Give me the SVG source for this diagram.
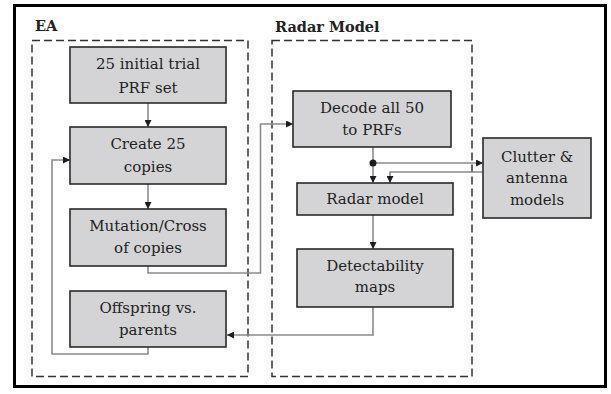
<svg xmlns="http://www.w3.org/2000/svg" width="611" height="394" viewBox="0 0 611 394">
  <style>
    .node rect { fill: #d4d4d6; stroke: #2a2a2a; stroke-width: 1.6; }
    text { font-family: "DejaVu Serif", "Liberation Serif", serif; fill: #222; }
    .node text { font-size: 15px; text-anchor: middle; }
    .lbl { font-size: 14.5px; font-weight: bold; }
    .group { fill: none; stroke: #333; stroke-width: 1.5; stroke-dasharray: 8 4; }
    .conn { fill: none; stroke: #8c8c8c; stroke-width: 1.6; }
    .arr { marker-end: url(#ah); }
  </style>
  <defs>
    <marker id="ah" viewBox="0 0 10 10" refX="10" refY="5" markerWidth="7" markerHeight="7" markerUnits="userSpaceOnUse" orient="auto">
      <path d="M0,0 L10,5 L0,10 Z" fill="#1e1e1e"/>
    </marker>
  </defs>
  <rect x="0" y="0" width="611" height="394" fill="#fff"/>
  <rect x="14.5" y="5.5" width="591" height="381" fill="none" stroke="#000" stroke-width="3"/>

  <g id="group-ea">
    <text class="lbl" x="35" y="31">EA</text>
    <rect class="group" x="32" y="40.5" width="216" height="336"/>
  </g>
  <g id="group-radar">
    <text class="lbl" x="275" y="32">Radar Model</text>
    <rect class="group" x="272" y="40.5" width="200" height="336"/>
  </g>

  <g id="connectors">
    <path class="conn arr" d="M148,103 V127"/>
    <path class="conn arr" d="M148,184 V209"/>
    <path class="conn arr" d="M148,266 V273 H260.5 V124 H293"/>
    <path class="conn arr" d="M148,347 V354 H52 V160 H70"/>
    <path class="conn arr" d="M373,307 V335 H227"/>
    <path class="conn arr" d="M373,147 V183"/>
    <path class="conn arr" d="M373,215 V249"/>
    <path class="conn arr" d="M373,163 H483"/>
    <path class="conn arr" d="M483,172 H390 V183"/>
    <circle cx="373" cy="163" r="3.5" fill="#1e1e1e"/>
  </g>

  <g id="node-initial" class="node">
    <rect x="70" y="47" width="156" height="56"/>
    <text x="148" y="69">25 initial trial</text>
    <text x="148" y="93">PRF set</text>
  </g>
  <g id="node-create" class="node">
    <rect x="70" y="127" width="156" height="57"/>
    <text x="148" y="149">Create 25</text>
    <text x="148" y="172">copies</text>
  </g>
  <g id="node-mutation" class="node">
    <rect x="70" y="209" width="156" height="57"/>
    <text x="148" y="231">Mutation/Cross</text>
    <text x="148" y="253">of copies</text>
  </g>
  <g id="node-offspring" class="node">
    <rect x="70" y="291" width="156" height="56"/>
    <text x="148" y="313">Offspring vs.</text>
    <text x="148" y="335">parents</text>
  </g>
  <g id="node-decode" class="node">
    <rect x="293" y="91" width="158" height="56"/>
    <text x="372" y="113">Decode all 50</text>
    <text x="372" y="135">to PRFs</text>
  </g>
  <g id="node-radar" class="node">
    <rect x="297" y="183" width="156" height="32"/>
    <text x="375" y="204">Radar model</text>
  </g>
  <g id="node-detect" class="node">
    <rect x="297" y="249" width="156" height="58"/>
    <text x="375" y="271">Detectability</text>
    <text x="375" y="292">maps</text>
  </g>
  <g id="node-clutter" class="node">
    <rect x="483" y="138" width="108" height="80"/>
    <text x="537" y="162">Clutter &amp;</text>
    <text x="537" y="183">antenna</text>
    <text x="537" y="205">models</text>
  </g>
</svg>
